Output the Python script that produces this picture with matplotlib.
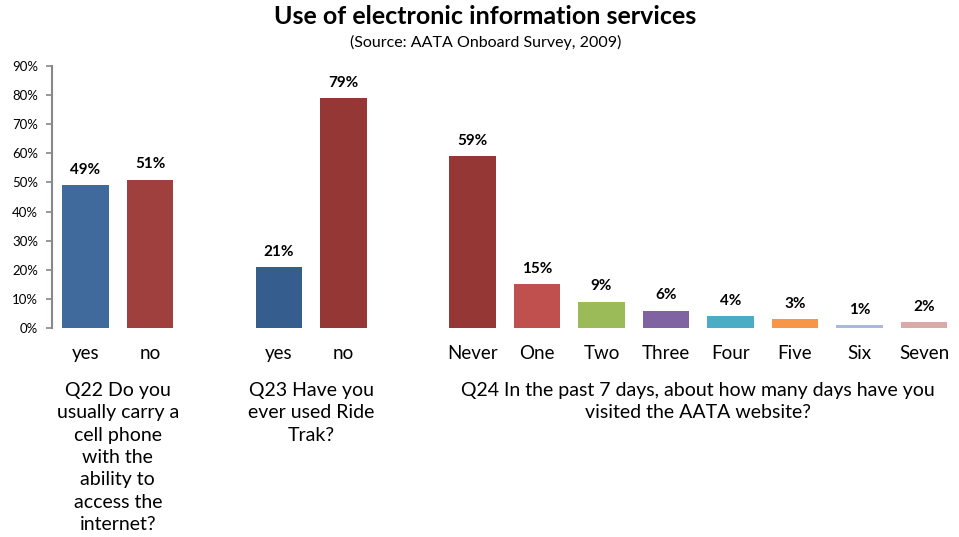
import matplotlib.pyplot as plt

# Survey answers, in percent
q22_labels = ["yes", "no"]
q22_values = [49, 51]
q23_labels = ["yes", "no"]
q23_values = [21, 79]
q24_labels = ["Never", "One", "Two", "Three", "Four", "Five", "Six", "Seven"]
q24_values = [59, 15, 9, 6, 4, 3, 1, 2]

q22_title = "Q22 Do you\nusually carry a\ncell phone\nwith the\nability to\naccess the\ninternet?"
q23_title = "Q23 Have you\never used Ride\nTrak?"
q24_title = "Q24 In the past 7 days, about how many days have you\nvisited the AATA website?"

q22_colors = ["#416A9C", "#A0403E"]
q23_colors = ["#355E8E", "#953735"]
q24_colors = ["#953735", "#C0504D", "#9BBB59", "#8064A2",
              "#4BACC6", "#F79646", "#A9BAD9", "#DAA9A8"]

plt.rcParams['font.family'] = ['Lato', 'DejaVu Sans']

fig = plt.figure(figsize=(9.59, 5.37), dpi=100)
ax = fig.add_axes([52 / 959, (537 - 328) / 537, (955 - 52) / 959, (328 - 66) / 537])

# one empty slot between the questions
groups = [
    (0, q22_labels, q22_values, q22_colors, q22_title),
    (3, q23_labels, q23_values, q23_colors, q23_title),
    (6, q24_labels, q24_values, q24_colors, q24_title),
]

ticks, ticklabels = [], []
for start, labels, values, colors, title in groups:
    xs = [start + i for i in range(len(values))]
    bars = ax.bar(xs, values, width=0.72, color=colors)
    for b, v in zip(bars, values):
        ax.annotate(f"{v}%", (b.get_x() + b.get_width() / 2, v),
                    xytext=(0, 6), textcoords='offset points',
                    ha='center', va='bottom', fontsize=11, fontweight='bold')
    ticks += xs
    ticklabels += labels
    center = (xs[0] + xs[-1]) / 2
    ax.text(center, -18.6, title, ha='center', va='top', fontsize=14,
            linespacing=1.38)

ax.set_xticks(ticks)
ax.set_xticklabels(ticklabels, fontsize=13.5)
ax.tick_params(axis='x', length=0, pad=12)

ax.set_xlim(-0.52, 13.48)
ax.set_ylim(0, 90)
ax.set_yticks(range(0, 91, 10))
ax.set_yticklabels([f"{v}%" for v in range(0, 91, 10)], fontsize=9.5)
ax.tick_params(axis='y', length=4, color='#888888', width=1.2, pad=6)

for side in ['top', 'right', 'bottom']:
    ax.spines[side].set_visible(False)
ax.spines['left'].set_color('#888888')
ax.spines['left'].set_linewidth(1.5)

fig.text(485 / 959, 1 - 17 / 537, "Use of electronic information services",
         ha='center', va='center', fontsize=18, fontweight='bold')
fig.text(486 / 959, 1 - 42 / 537, "(Source: AATA Onboard Survey, 2009)",
         ha='center', va='center', fontsize=11.5)

fig.savefig("out.png", dpi=100)
